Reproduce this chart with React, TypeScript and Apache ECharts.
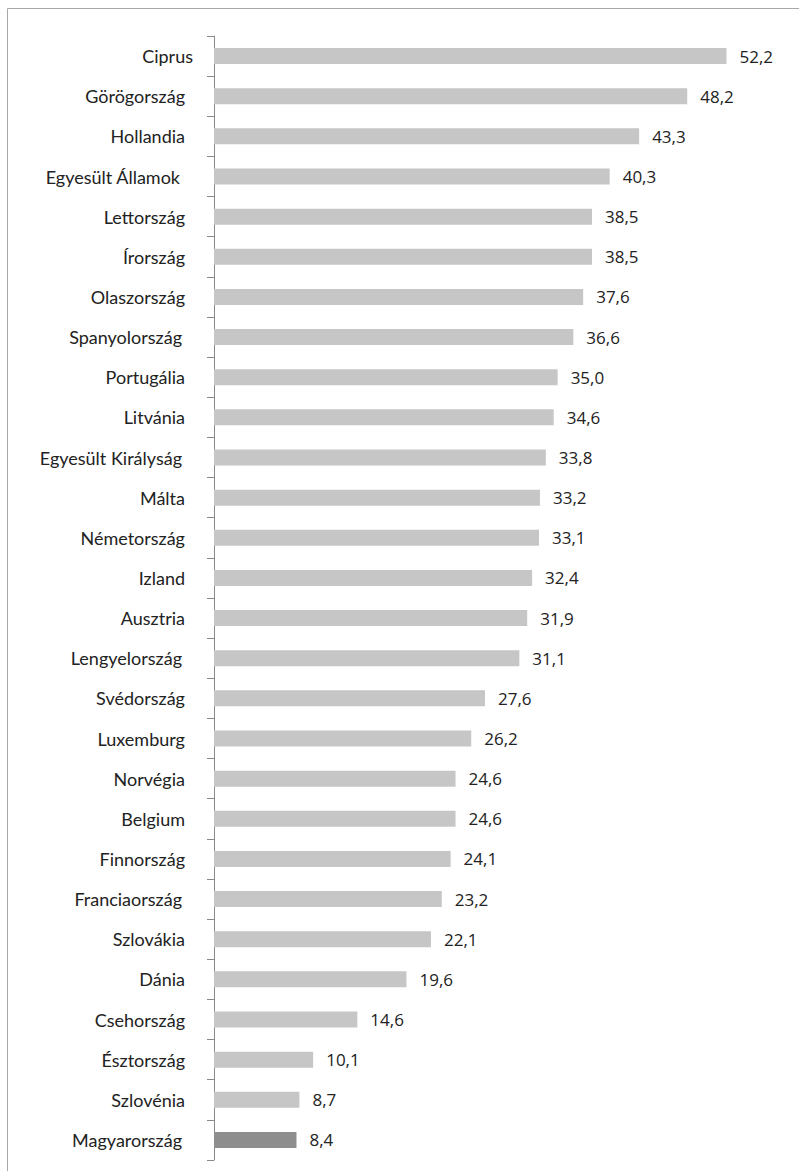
import React, { useEffect, useRef } from "react";
import * as echarts from "echarts";

const categories = [
  "Ciprus",
  "Görögország",
  "Hollandia",
  "Egyesült Államok",
  "Lettország",
  "Írország",
  "Olaszország",
  "Spanyolország",
  "Portugália",
  "Litvánia",
  "Egyesült Királyság",
  "Málta",
  "Németország",
  "Izland",
  "Ausztria",
  "Lengyelország",
  "Svédország",
  "Luxemburg",
  "Norvégia",
  "Belgium",
  "Finnország",
  "Franciaország",
  "Szlovákia",
  "Dánia",
  "Csehország",
  "Észtország",
  "Szlovénia",
  "Magyarország",
];

const values = [
  52.2, 48.2, 43.3, 40.3, 38.5, 38.5, 37.6, 36.6, 35.0, 34.6, 33.8, 33.2, 33.1,
  32.4, 31.9, 31.1, 27.6, 26.2, 24.6, 24.6, 24.1, 23.2, 22.1, 19.6, 14.6, 10.1,
  8.7, 8.4,
];

const highlight = "Magyarország";

// label right-padding style groups (visual alignment only)
const wideGap = [
  "Spanyolország",
  "Egyesült Királyság",
  "Lengyelország",
  "Franciaország",
  "Magyarország",
];
const widestGap = ["Egyesült Államok"];
const noGap = ["Ciprus"];

export default function App() {
  const ref = useRef<HTMLDivElement>(null);
  useEffect(() => {
    document.body.style.margin = "0";
    const chart = echarts.init(ref.current!, null, { renderer: "svg" });
    const font = "Lato, 'Open Sans', sans-serif";
    const base = { color: "#222222", fontSize: 18, fontFamily: font };
    chart.setOption({
      animation: false,
      backgroundColor: "#ffffff",
      grid: { left: 214, top: 36, height: 1124, right: 45, containLabel: false },
      xAxis: {
        type: "value",
        min: 0,
        max: 55,
        show: false,
        splitLine: { show: false },
      },
      yAxis: {
        type: "category",
        data: categories,
        inverse: true,
        axisLine: { show: true, lineStyle: { color: "#8a8a8a", width: 1 } },
        axisTick: { show: true, length: 7, lineStyle: { color: "#8a8a8a" } },
        axisLabel: {
          margin: 21,
          ...base,
          formatter: (v: string) => {
            if (noGap.includes(v)) return `{n|${v}}`;
            if (widestGap.includes(v)) return `{c|${v}}`;
            if (wideGap.includes(v)) return `{b|${v}}`;
            return `{a|${v}}`;
          },
          rich: {
            n: { ...base },
            a: { ...base, padding: [0, 8, 0, 0] },
            b: { ...base, padding: [0, 11, 0, 0] },
            c: { ...base, padding: [0, 13, 0, 0] },
          },
        },
      },
      series: [
        {
          type: "bar",
          barWidth: 16,
          data: values.map((v, i) => ({
            value: v,
            itemStyle: {
              color: categories[i] === highlight ? "#8e8e8e" : "#c6c6c6",
            },
          })),
          label: {
            show: true,
            position: "right",
            distance: 13,
            color: "#222222",
            fontSize: 17,
            fontFamily: "'Open Sans', Lato, sans-serif",
            formatter: (p: any) => Number(p.value).toFixed(1).replace(".", ","),
          },
        },
      ],
      graphic: [
        {
          type: "line",
          shape: { x1: 7.5, y1: 8.5, x2: 799, y2: 8.5 },
          style: { stroke: "#a8a8a8", lineWidth: 1 },
        },
        {
          type: "line",
          shape: { x1: 7.5, y1: 8.5, x2: 7.5, y2: 1171 },
          style: { stroke: "#a8a8a8", lineWidth: 1 },
        },
      ],
    });
    return () => chart.dispose();
  }, []);
  return <div ref={ref} style={{ width: 799, height: 1171 }} />;
}
